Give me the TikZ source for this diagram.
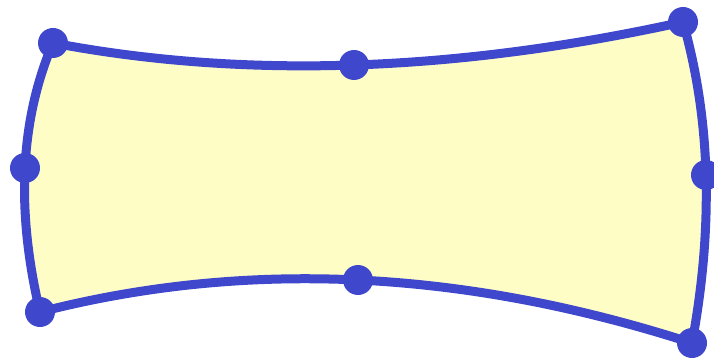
\documentclass[tikz,border=0pt]{standalone}
\usetikzlibrary{calc}
\definecolor{edgeblue}{HTML}{3F48CC}
\definecolor{fillyellow}{HTML}{FFFDC6}
\begin{document}
\begin{tikzpicture}[x=1pt,y=-1pt,
  dot/.style={circle,fill=edgeblue,inner sep=0pt,minimum size=30pt},
  edgeline/.style={draw=edgeblue,line width=9pt,line join=round}]
\useasboundingbox (0,0) rectangle (714,358);
% corner and middle points
\coordinate (tl) at (53,43);
\coordinate (tm) at (354,65);
\coordinate (tr) at (683,22);
\coordinate (rm) at (706,175);
\coordinate (br) at (692,343);
\coordinate (bm) at (358,280);
\coordinate (bl) at (40,312);
\coordinate (lm) at (25,168);
% quadratic control points (curve passes through the middle points)
\coordinate (ct) at (340,97.5);
\coordinate (cr) at (724.5,167.5);
\coordinate (cb) at (350,232.5);
\coordinate (cl) at (3.5,158.5);
\path[edgeline,fill=fillyellow]
  (tl) .. controls ($(tl)!2/3!(ct)$) and ($(tr)!2/3!(ct)$) .. (tr)
       .. controls ($(tr)!2/3!(cr)$) and ($(br)!2/3!(cr)$) .. (br)
       .. controls ($(br)!2/3!(cb)$) and ($(bl)!2/3!(cb)$) .. (bl)
       .. controls ($(bl)!2/3!(cl)$) and ($(tl)!2/3!(cl)$) .. (tl) -- cycle;
\foreach \p in {tl,tm,tr,rm,br,bm,bl,lm}
  \node[dot] (d\p) at (\p) {};
\end{tikzpicture}
\end{document}
